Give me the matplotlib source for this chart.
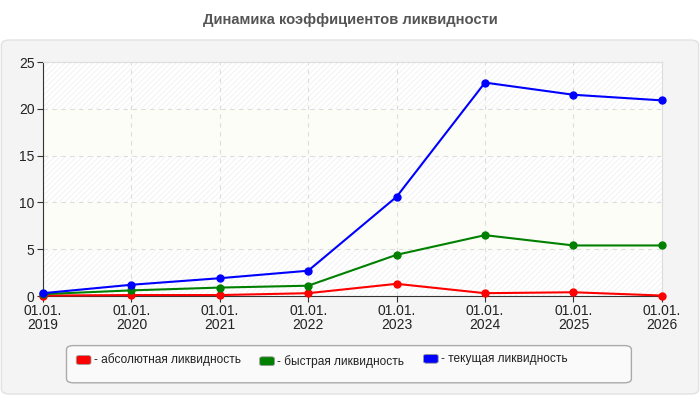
import matplotlib.pyplot as plt
from matplotlib.patches import FancyBboxPatch

# данные
years = ['2019', '2020', '2021', '2022', '2023', '2024', '2025', '2026']
absolute = [0.05, 0.1, 0.1, 0.3, 1.3, 0.3, 0.4, 0.05]
quick = [0.2, 0.6, 0.9, 1.1, 4.4, 6.5, 5.4, 5.4]
current = [0.3, 1.2, 1.9, 2.7, 10.6, 22.8, 21.5, 20.9]

names = ['- абсолютная ликвидность', '- быстрая ликвидность', '- текущая ликвидность']
colors = ['#ff0000', '#008000', '#0000ff']

plt.rcParams['font.family'] = ['Liberation Sans', 'DejaVu Sans']
plt.rcParams['hatch.linewidth'] = 0.5

fig = plt.figure(figsize=(7, 4), dpi=100)
fig.patch.set_facecolor('white')

# серая панель
panel = FancyBboxPatch((0.002, 0.015), 0.996, 0.885, boxstyle='round,pad=0,rounding_size=0.012',
                       transform=fig.transFigure, facecolor='#f4f4f4', edgecolor='#e2e2e2', lw=1,
                       zorder=-10)
fig.patches.append(panel)

fig.text(0.5, 0.95, 'Динамика коэффициентов ликвидности', ha='center', va='center',
         fontsize=10.6, fontweight='bold', color='#555555')

ax = fig.add_axes([0.0614, 0.26, 0.884, 0.585])
ax.set_facecolor('white')

# полосы фона
for i in range(5):
    if i % 2 == 0:
        ax.axhspan(i * 5, i * 5 + 5, facecolor='white', edgecolor='#eeeeee', hatch='//////', lw=0, zorder=0)
    else:
        ax.axhspan(i * 5, i * 5 + 5, facecolor='#fcfdf6', lw=0, zorder=0)

x = list(range(len(years)))
for vals, c in zip([absolute, quick, current], colors):
    ax.plot(x, vals, color=c, lw=1.5, marker='o', markersize=5, zorder=3, clip_on=False)

ax.set_xlim(0, 7)
ax.set_ylim(0, 25)
ax.set_xticks(x)
ax.set_xticklabels(['01.01.\n' + y for y in years], fontsize=10, color='#222222', linespacing=1.0)
ax.set_yticks([0, 5, 10, 15, 20, 25])
ax.tick_params(axis='y', labelsize=10, labelcolor='#222222', length=4, color='#333333', pad=2)
ax.tick_params(axis='x', length=4, color='#333333', pad=2)
ax.grid(True, color='#dddddd', linestyle=(0, (4, 4)), lw=0.8, zorder=1)
ax.set_axisbelow(True)
for s in ['top', 'right']:
    ax.spines[s].set_color('#dddddd')
for s in ['left', 'bottom']:
    ax.spines[s].set_color('#333333')

# легенда
leg = FancyBboxPatch((0.095, 0.043), 0.807, 0.093, boxstyle='round,pad=0,rounding_size=0.01',
                     transform=fig.transFigure, facecolor='#fafafa', edgecolor='#aaaaaa', lw=1)
fig.patches.append(leg)
lx = [0.109, 0.371, 0.605]
ly = [0.1, 0.097, 0.103]
for name, c, px, py in zip(names, colors, lx, ly):
    sw = FancyBboxPatch((px, py - 0.011), 0.021, 0.022, boxstyle='round,pad=0,rounding_size=0.004',
                        transform=fig.transFigure, facecolor=c, edgecolor='#999999', lw=0.6)
    fig.patches.append(sw)
    fig.text(px + 0.025, py, name, fontsize=8.6, color='#222222', va='center')

fig.savefig('out.png', dpi=100, facecolor=fig.get_facecolor())
